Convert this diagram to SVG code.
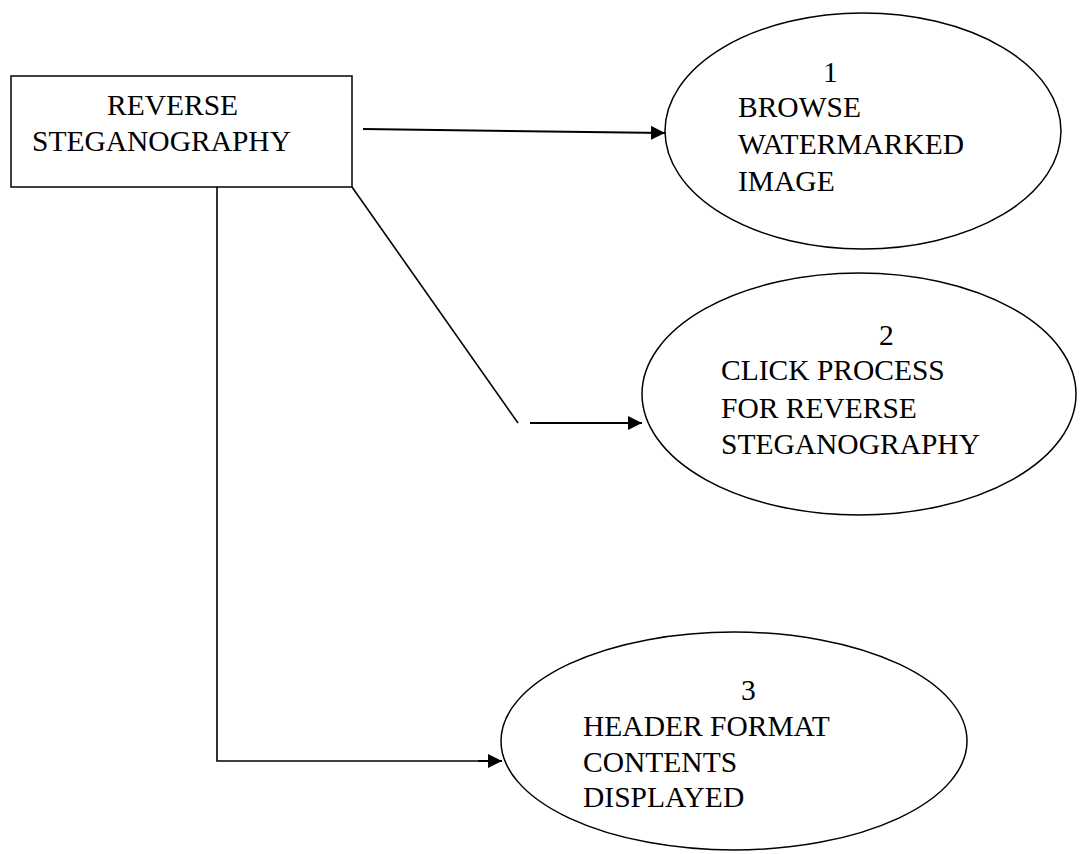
<svg xmlns="http://www.w3.org/2000/svg" width="1082" height="854" viewBox="0 0 1082 854">
  <style>
    .box { fill: #ffffff; stroke: #000000; stroke-width: 1.5; }
    .oval { fill: #ffffff; stroke: #000000; stroke-width: 1.5; }
    .lbl { font-family: "Liberation Serif", "Times New Roman", serif; font-size: 29.5px; fill: #000000; }
    .wire { fill: none; stroke: #000000; stroke-width: 1.6; }
    .wire.arrow { stroke-width: 2; marker-end: url(#head); }
  </style>
  <defs>
    <marker id="head" viewBox="0 0 14 14" refX="14" refY="7" markerWidth="14" markerHeight="14" markerUnits="userSpaceOnUse" orient="auto">
      <path d="M0,0 L14,7 L0,14 Z" fill="#000000"/>
    </marker>
  </defs>
  <rect width="1082" height="854" fill="#ffffff"/>

  <!-- connectors -->
  <g id="connectors">
    <line class="wire arrow" x1="363" y1="129" x2="665" y2="133"/>
    <line class="wire" x1="352" y1="187" x2="518" y2="423"/>
    <line class="wire arrow" x1="530" y1="423" x2="642" y2="423"/>
    <polyline class="wire" points="217,187 217,761 480,761"/>
    <line class="wire arrow" x1="478" y1="761" x2="502" y2="761"/>
  </g>

  <!-- source entity -->
  <g id="reverse-steganography">
    <rect class="box" x="11" y="76" width="341" height="111"/>
    <text class="lbl" x="107" y="115">REVERSE</text>
    <text class="lbl" x="32" y="151">STEGANOGRAPHY</text>
  </g>

  <!-- process 1 -->
  <g id="process-1">
    <ellipse class="oval" cx="863" cy="131" rx="198" ry="118"/>
    <text class="lbl" x="823" y="82">1</text>
    <text class="lbl" x="738" y="117">BROWSE</text>
    <text class="lbl" x="738" y="154">WATERMARKED</text>
    <text class="lbl" x="738" y="191">IMAGE</text>
  </g>

  <!-- process 2 -->
  <g id="process-2">
    <ellipse class="oval" cx="859" cy="394" rx="217" ry="121"/>
    <text class="lbl" x="879" y="345">2</text>
    <text class="lbl" x="721" y="380">CLICK PROCESS</text>
    <text class="lbl" x="721" y="418">FOR REVERSE</text>
    <text class="lbl" x="721" y="454">STEGANOGRAPHY</text>
  </g>

  <!-- process 3 -->
  <g id="process-3">
    <ellipse class="oval" cx="734" cy="741" rx="233" ry="109"/>
    <text class="lbl" x="741" y="700">3</text>
    <text class="lbl" x="583" y="736">HEADER FORMAT</text>
    <text class="lbl" x="583" y="772">CONTENTS</text>
    <text class="lbl" x="583" y="807">DISPLAYED</text>
  </g>
</svg>
